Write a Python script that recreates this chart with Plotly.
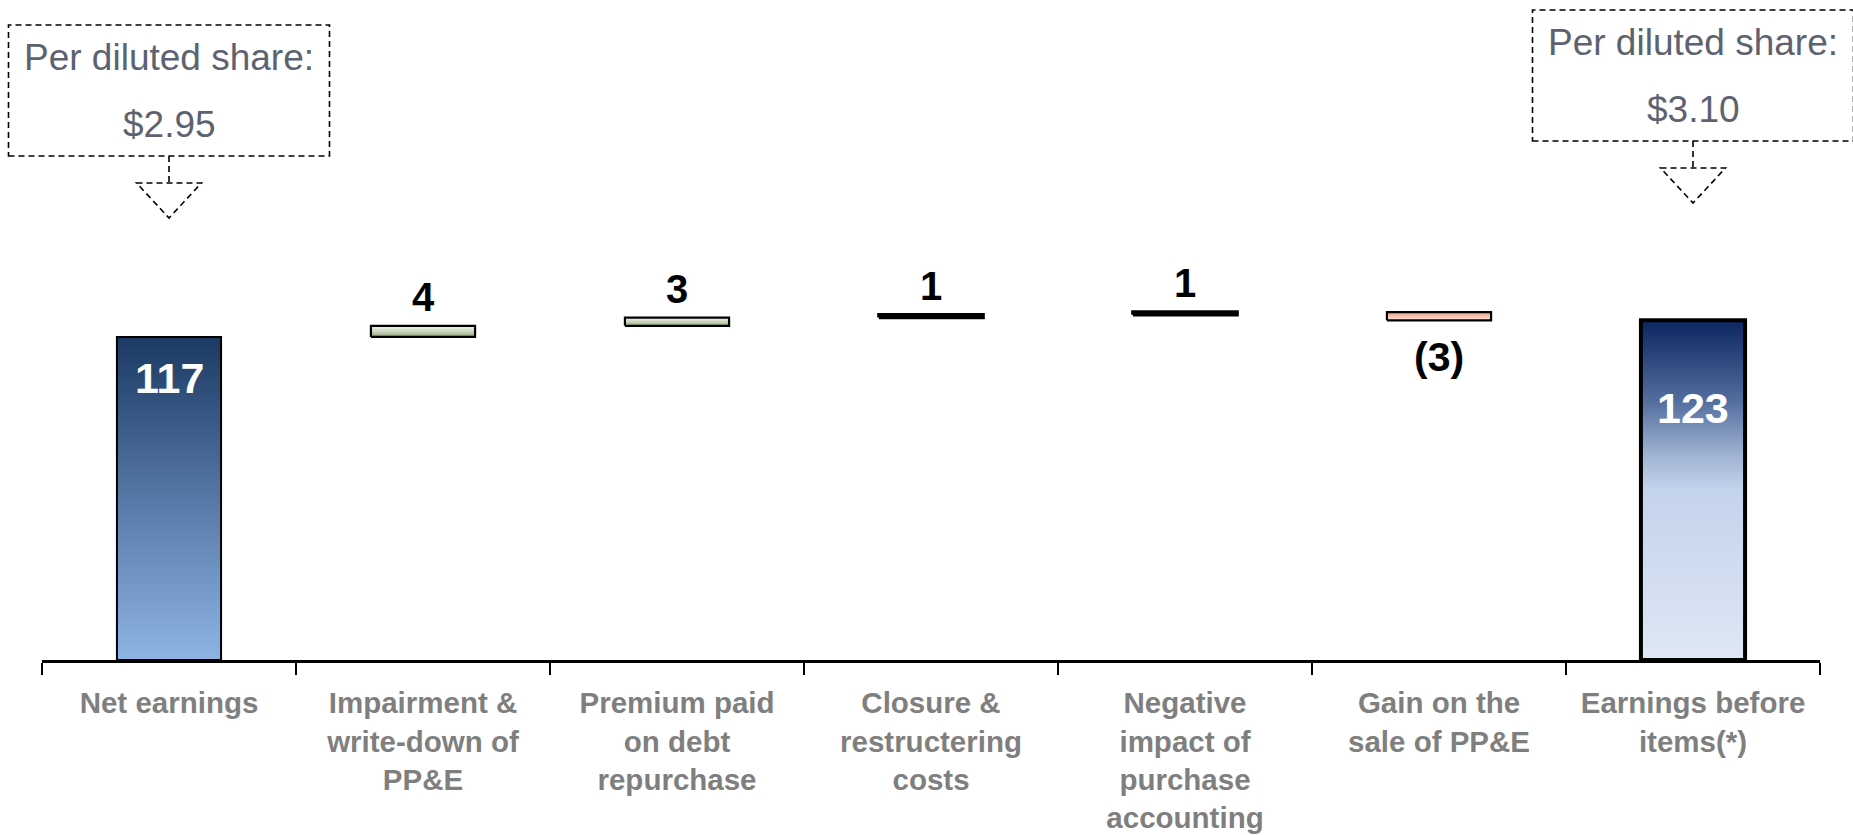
import plotly.graph_objects as go

# ---- data -------------------------------------------------------------
categories = [
    "Net earnings",
    "Impairment &<br>write-down of<br>PP&E",
    "Premium paid<br>on debt<br>repurchase",
    "Closure &<br>restructering<br>costs",
    "Negative<br>impact of<br>purchase<br>accounting",
    "Gain on the<br>sale of PP&E",
    "Earnings before<br>items(*)",
]
values = [117, 4, 3, 1, 1, -3, 123]
measures = ["total", "relative", "relative", "relative", "relative", "relative", "total"]
value_labels = ["117", "4", "3", "1", "1", "(3)", "123"]

per_share_caption = "Per diluted share:"
per_share_values = ["$2.95", "$3.10"]
per_share_bars = [0, 6]          # index of the bar each callout points at

# ---- styling ----------------------------------------------------------
FONT = "Liberation Sans, Arial, Helvetica, sans-serif"
BAR_WIDTH = 0.41
Y_MAX = 239.0

PLOT_L, PLOT_R = 42, 1820
PLOT_T, PLOT_B = 0, 660
W, H = 1853, 835

blue_start = [[0.0, "#8eb4e3"], [0.5, "#5678a6"], [1.0, "#1b3962"]]
blue_end = [[0.0, "#dfe7f4"], [0.5, "#c4d3ec"], [0.6, "#a2b4d4"],
            [0.76, "#546e9f"], [1.0, "#0b2660"]]
green = [[0.0, "#8aa276"], [0.45, "#c6d2b8"], [1.0, "#f3f6ee"]]
salmon = [[0.0, "#fde6dc"], [0.5, "#f8c2b0"], [1.0, "#ef9a7f"]]
scales = [blue_start, green, green, green, green, salmon, blue_end]
outline_w = [2, 2.2, 2.2, 3.5, 3.5, 2.2, 4]

# ---- waterfall geometry from the values -------------------------------
bases, tops = [], []
running = 0
for v, m in zip(values, measures):
    if m == "total":
        b, t = 0, v
        running = v
    else:
        b, t = (running, running + v) if v >= 0 else (running + v, running)
        running += v
    bases.append(b)
    tops.append(t)

fig = go.Figure()
for i, (b, t) in enumerate(zip(bases, tops)):
    x0, x1 = i - BAR_WIDTH / 2, i + BAR_WIDTH / 2
    fig.add_trace(go.Scatter(
        x=[x0, x1, x1, x0, x0],
        y=[b, b, t, t, b],
        mode="lines",
        fill="toself",
        fillgradient=dict(type="vertical", start=b, stop=t, colorscale=scales[i]),
        line=dict(color="black", width=outline_w[i]),
        hoverinfo="text",
        text=value_labels[i],
        showlegend=False,
    ))

# value labels
annotations = []
for i, (v, m) in enumerate(zip(values, measures)):
    if m == "total":
        shift = -41 if i == 0 else -88
        annotations.append(dict(
            x=i, y=tops[i], xref="x", yref="y", text=value_labels[i],
            showarrow=False, xanchor="center", yanchor="middle", yshift=shift,
            font=dict(family=FONT, size=43, color="white", weight="bold"),
        ))
    elif v >= 0:
        annotations.append(dict(
            x=i, y=tops[i], xref="x", yref="y", text=value_labels[i],
            showarrow=False, xanchor="center", yanchor="middle", yshift=29,
            font=dict(family=FONT, size=40, color="black", weight="bold"),
        ))
    else:
        annotations.append(dict(
            x=i, y=bases[i], xref="x", yref="y", text=value_labels[i],
            showarrow=False, xanchor="center", yanchor="middle", yshift=-37,
            font=dict(family=FONT, size=41, color="black", weight="bold"),
        ))

# ---- per-share callouts -----------------------------------------------
def px_x(px):
    return (px - PLOT_L) / (PLOT_R - PLOT_L)


def px_y(py):
    return (PLOT_B - py) / (PLOT_B - PLOT_T)


n_cat = len(categories)
unit_px = (PLOT_R - PLOT_L) / n_cat
callout_boxes = [(25, 156), (10, 141)]      # top / bottom of each box, px
callout_half_w = 160.5
tri_half_w = 32.5
tri_depth = 35
stem_len = 27
dash = "6px,4px"

shapes = []
for k, bar in enumerate(per_share_bars):
    cx = PLOT_L + (bar + 0.5) * unit_px
    top, bot = callout_boxes[k]
    shapes.append(dict(
        type="rect", xref="paper", yref="paper",
        x0=px_x(cx - callout_half_w), x1=px_x(cx + callout_half_w),
        y0=px_y(bot), y1=px_y(top),
        line=dict(color="black", width=1.6, dash=dash),
    ))
    shapes.append(dict(
        type="line", xref="paper", yref="paper",
        x0=px_x(cx), x1=px_x(cx), y0=px_y(bot), y1=px_y(bot + stem_len),
        line=dict(color="black", width=1.6, dash=dash),
    ))
    ty = bot + stem_len
    path = "M {a},{b} L {c},{d} L {e},{f} Z".format(
        a=px_x(cx - tri_half_w), b=px_y(ty),
        c=px_x(cx + tri_half_w), d=px_y(ty),
        e=px_x(cx), f=px_y(ty + tri_depth),
    )
    shapes.append(dict(
        type="path", xref="paper", yref="paper", path=path,
        line=dict(color="black", width=1.6, dash=dash),
    ))
    mid = (top + bot) / 2
    annotations.append(dict(
        x=px_x(cx), y=px_y(mid - 33), xref="paper", yref="paper",
        text=per_share_caption, showarrow=False,
        xanchor="center", yanchor="middle",
        font=dict(family=FONT, size=37, color="#5d6270"),
    ))
    annotations.append(dict(
        x=px_x(cx), y=px_y(mid + 34), xref="paper", yref="paper",
        text=per_share_values[k], showarrow=False,
        xanchor="center", yanchor="middle",
        font=dict(family=FONT, size=37, color="#5d6270"),
    ))

fig.update_layout(
    width=W, height=H,
    margin=dict(l=PLOT_L, r=W - PLOT_R, t=PLOT_T, b=H - PLOT_B, autoexpand=False),
    paper_bgcolor="white", plot_bgcolor="white",
    showlegend=False,
    shapes=shapes,
    annotations=annotations,
    xaxis=dict(
        range=[-0.5, n_cat - 0.5],
        tickmode="array",
        tickvals=list(range(n_cat)),
        ticktext=categories,
        ticks="",
        ticklabelstandoff=15,
        automargin=False,
        tickfont=dict(family=FONT, size=29.5, color="#7f7f7f", weight="bold"),
        showline=True, linecolor="black", linewidth=3,
        showgrid=False, zeroline=False, fixedrange=True,
        minor=dict(
            tickmode="array",
            tickvals=[i - 0.5 for i in range(n_cat + 1)],
            ticks="outside", ticklen=12, tickwidth=1.6, tickcolor="black",
            showgrid=False,
        ),
    ),
    yaxis=dict(range=[0, Y_MAX], visible=False, fixedrange=True, automargin=False),
)

fig.write_html("out.html")
